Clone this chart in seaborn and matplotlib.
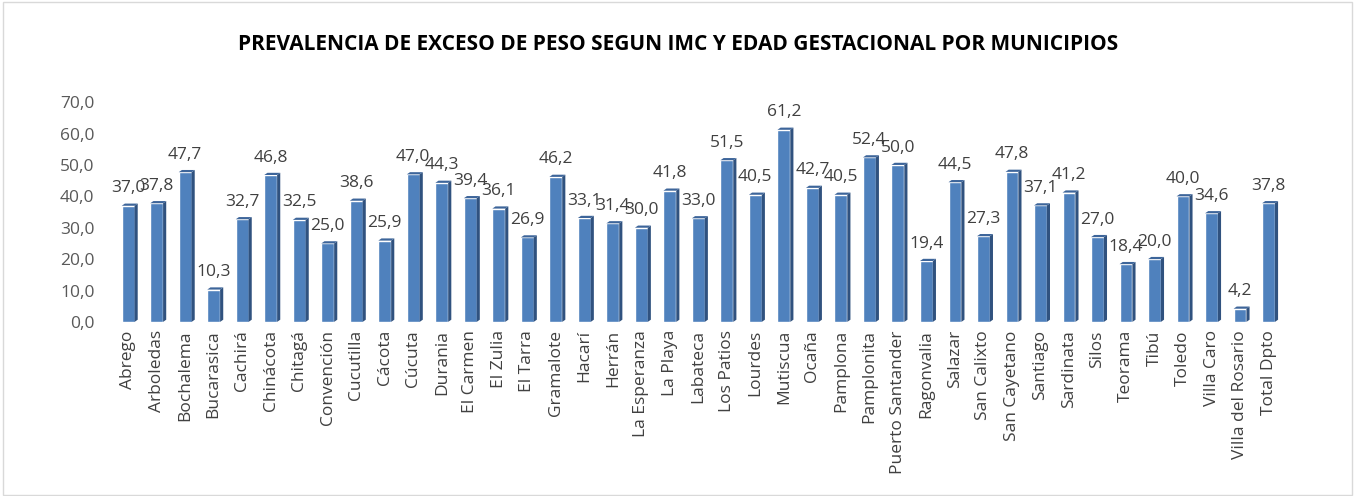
import matplotlib
matplotlib.use("Agg")
import matplotlib.pyplot as plt
from matplotlib.patches import Polygon, Rectangle
import seaborn as sns
import pandas as pd

municipios = ["Abrego", "Arboledas", "Bochalema", "Bucarasica", "Cachirá", "Chinácota",
              "Chitagá", "Convención", "Cucutilla", "Cácota", "Cúcuta", "Durania",
              "El Carmen", "El Zulia", "El Tarra", "Gramalote", "Hacarí", "Herrán",
              "La Esperanza", "La Playa", "Labateca", "Los Patios", "Lourdes", "Mutiscua",
              "Ocaña", "Pamplona", "Pamplonita", "Puerto Santander", "Ragonvalia", "Salazar",
              "San Calixto", "San Cayetano", "Santiago", "Sardinata", "Silos", "Teorama",
              "Tibú", "Toledo", "Villa Caro", "Villa del Rosario", "Total Dpto"]
prevalencia = [37.0, 37.8, 47.7, 10.3, 32.7, 46.8,
               32.5, 25.0, 38.6, 25.9, 47.0, 44.3,
               39.4, 36.1, 26.9, 46.2, 33.1, 31.4,
               30.0, 41.8, 33.0, 51.5, 40.5, 61.2,
               42.7, 40.5, 52.4, 50.0, 19.4, 44.5,
               27.3, 47.8, 37.1, 41.2, 27.0, 18.4,
               20.0, 40.0, 34.6, 4.2, 37.8]
y_ticks = [0, 10, 20, 30, 40, 50, 60, 70]

df = pd.DataFrame({"municipio": municipios, "valor": prevalencia})

sns.set_style("white")
plt.rcParams["font.family"] = ["Open Sans", "DejaVu Sans"]

fig = plt.figure(figsize=(13.56, 4.96), dpi=100)
ax = fig.add_axes([0.084, 0.351, 0.862, 0.443])

front = "#4F81BD"
side = "#30527F"
sns.barplot(data=df, x="municipio", y="valor", color=front, width=0.45,
            saturation=1, ax=ax)

# fake 3D side and top for each bar
depth_x = 0.11
depth_y = 0.7
for p in list(ax.patches):
    x0, y0 = p.get_x(), p.get_y()
    w, h = p.get_width(), p.get_height()
    ax.add_patch(Polygon([(x0 + w, y0), (x0 + w + depth_x, y0 + depth_y),
                          (x0 + w + depth_x, y0 + h + depth_y), (x0 + w, y0 + h)],
                         closed=True, facecolor=side, edgecolor="none"))
    ax.add_patch(Polygon([(x0, y0 + h), (x0 + w, y0 + h),
                          (x0 + w + depth_x, y0 + h + depth_y), (x0 + depth_x, y0 + h + depth_y)],
                         closed=True, facecolor="#3D659A", edgecolor="none"))

for i, v in enumerate(prevalencia):
    ax.text(i, v + 3.0, f"{v:.1f}".replace(".", ","), ha="center", va="bottom",
            fontsize=12.5, color="#404040")

ax.set_ylim(0, 70)
ax.set_xlim(-0.5, len(municipios) - 0.5)
ax.set_yticks(y_ticks)
ax.set_yticklabels([f"{t:.1f}".replace(".", ",") for t in y_ticks], fontsize=12.5, color="#595959")
ax.tick_params(axis="x", rotation=90, labelsize=12.5, labelcolor="#404040", length=0, pad=6)
ax.tick_params(axis="y", length=0, pad=14)
ax.set_xlabel("")
ax.set_ylabel("")
sns.despine(ax=ax, left=True, bottom=True)

fig.text(0.5, 0.91, "PREVALENCIA DE EXCESO DE PESO SEGUN IMC Y EDAD GESTACIONAL POR MUNICIPIOS",
         ha="center", va="center", fontsize=15, fontweight="bold", color="black",
         family=["Open Sans", "DejaVu Sans"])

fig.patches.append(Rectangle((0.002, 0.003), 0.995, 0.993, transform=fig.transFigure,
                             fill=False, edgecolor="#D9D9D9", linewidth=1))

fig.savefig("out.png", dpi=100)
